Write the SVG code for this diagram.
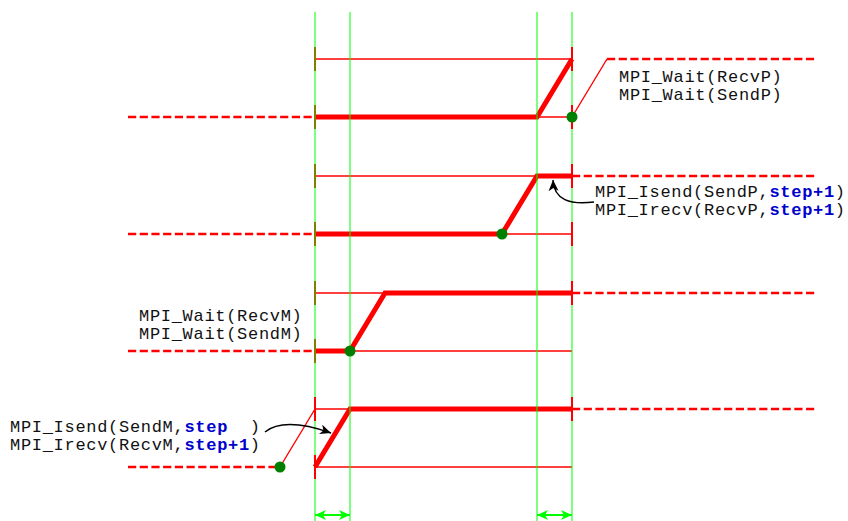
<svg xmlns="http://www.w3.org/2000/svg" width="848" height="521" viewBox="0 0 848 521">
<style>
.thin{stroke:#ff0000;stroke-width:1.4;fill:none}
.thick{stroke:#ff0000;stroke-width:5;fill:none;stroke-linejoin:miter}
.dash{stroke:#ff0000;stroke-width:2.6;fill:none;stroke-dasharray:8.2 3.5}
.tick{stroke:#ff0000;stroke-width:2}
.guide{stroke:#00ff00;stroke-width:2;stroke-opacity:0.5}
.dot{fill:#008000}
.lbl{font-family:"Liberation Mono","DejaVu Sans Mono",monospace;font-size:17px;letter-spacing:0.7px;fill:#111}
.st{fill:#0000cc;font-weight:bold}
.call{stroke:#000;stroke-width:1.5;fill:none}
.dim{stroke:#00ff00;stroke-width:2.2}
</style>
<defs>
<marker id="ah" markerUnits="userSpaceOnUse" markerWidth="12" markerHeight="10" refX="11" refY="5" orient="auto">
<path d="M0,0 L11,5 L0,10 L3,5 Z" fill="#000"/>
</marker>
<marker id="ga" markerUnits="userSpaceOnUse" markerWidth="12" markerHeight="10" refX="11" refY="5" orient="auto-start-reverse">
<path d="M0,0 L11,5 L0,10 L3,5 Z" fill="#00ff00"/>
</marker>
</defs>
<rect width="848" height="521" fill="#fff"/>
<g id="ticks-under">
<line class="tick" x1="315" y1="47" x2="315" y2="71"/>
<line class="tick" x1="315" y1="105" x2="315" y2="129"/>
<line class="tick" x1="315" y1="164" x2="315" y2="188"/>
<line class="tick" x1="315" y1="222" x2="315" y2="246"/>
<line class="tick" x1="315" y1="281" x2="315" y2="305"/>
<line class="tick" x1="315" y1="339" x2="315" y2="363"/>
</g>
<g id="row1">
<line class="thin" x1="315" y1="59" x2="572" y2="59"/>
<line class="thin" x1="315" y1="117" x2="572" y2="117"/>
<line class="dash" x1="128" y1="117" x2="315" y2="117"/>
<polyline class="thick" points="315,117 537,117 572,59"/>
<polyline class="thin" points="572,117 607,59"/>
<line class="dash" x1="607" y1="59" x2="815" y2="59"/>
<text class="lbl" x="619" y="82">MPI_Wait(RecvP)</text>
<text class="lbl" x="619" y="100">MPI_Wait(SendP)</text>
</g>
<g id="row2">
<line class="thin" x1="315" y1="176" x2="572" y2="176"/>
<line class="thin" x1="315" y1="234" x2="572" y2="234"/>
<line class="dash" x1="128" y1="234" x2="315" y2="234"/>
<polyline class="thick" points="315,234 502,234 537,176 572,176"/>
<line class="dash" x1="572" y1="176" x2="815" y2="176"/>
<text class="lbl" x="595" y="197">MPI_Isend(SendP,<tspan class="st">step+1</tspan>)</text>
<text class="lbl" x="595" y="215">MPI_Irecv(RecvP,<tspan class="st">step+1</tspan>)</text>
</g>
<g id="row3">
<line class="thin" x1="315" y1="293" x2="572" y2="293"/>
<line class="thin" x1="315" y1="351" x2="572" y2="351"/>
<line class="dash" x1="128" y1="351" x2="315" y2="351"/>
<polyline class="thick" points="315,351 350,351 385,293 572,293"/>
<line class="dash" x1="572" y1="293" x2="815" y2="293"/>
<text class="lbl" x="139" y="321">MPI_Wait(RecvM)</text>
<text class="lbl" x="139" y="339">MPI_Wait(SendM)</text>
</g>
<g id="row4">
<line class="thin" x1="315" y1="409" x2="572" y2="409"/>
<line class="thin" x1="315" y1="467" x2="572" y2="467"/>
<line class="dash" x1="128" y1="467" x2="280" y2="467"/>
<polyline class="thin" points="280,467 315,409"/>
<polyline class="thick" points="315,467 350,409 572,409"/>
<line class="dash" x1="572" y1="409" x2="815" y2="409"/>
<text class="lbl" x="10" y="432" xml:space="preserve">MPI_Isend(SendM,<tspan class="st">step</tspan>  )</text>
<text class="lbl" x="10" y="450">MPI_Irecv(RecvM,<tspan class="st">step+1</tspan>)</text>
</g>
<g id="guides">
<line class="guide" x1="315" y1="12" x2="315" y2="521"/>
<line class="guide" x1="350" y1="12" x2="350" y2="521"/>
<line class="guide" x1="537" y1="12" x2="537" y2="521"/>
<line class="guide" x1="572" y1="12" x2="572" y2="521"/>
</g>
<g id="ticks-over">
<line class="tick" x1="572" y1="47" x2="572" y2="71"/>
<line class="tick" x1="572" y1="105" x2="572" y2="129"/>
<line class="tick" x1="572" y1="164" x2="572" y2="188"/>
<line class="tick" x1="572" y1="222" x2="572" y2="246"/>
<line class="tick" x1="572" y1="281" x2="572" y2="305"/>
<line class="tick" x1="572" y1="397" x2="572" y2="421"/>
<line class="tick" x1="315" y1="397" x2="315" y2="421"/>
<line class="tick" x1="315" y1="455" x2="315" y2="479"/>
</g>
<g id="dots">
<circle class="dot" cx="572" cy="117" r="5.5"/>
<circle class="dot" cx="502" cy="234" r="5.5"/>
<circle class="dot" cx="350" cy="351" r="5.5"/>
<circle class="dot" cx="280" cy="467" r="5.5"/>
</g>
<g id="connectors">
<path class="call" d="M594,202 C570,205 554,200 553,180" marker-end="url(#ah)"/>
<path class="call" d="M265,432 C280,420 305,424 331,433" marker-end="url(#ah)"/>
<line class="dim" x1="315" y1="515" x2="350" y2="515" marker-start="url(#ga)" marker-end="url(#ga)"/>
<line class="dim" x1="537" y1="515" x2="572" y2="515" marker-start="url(#ga)" marker-end="url(#ga)"/>
</g>
</svg>
